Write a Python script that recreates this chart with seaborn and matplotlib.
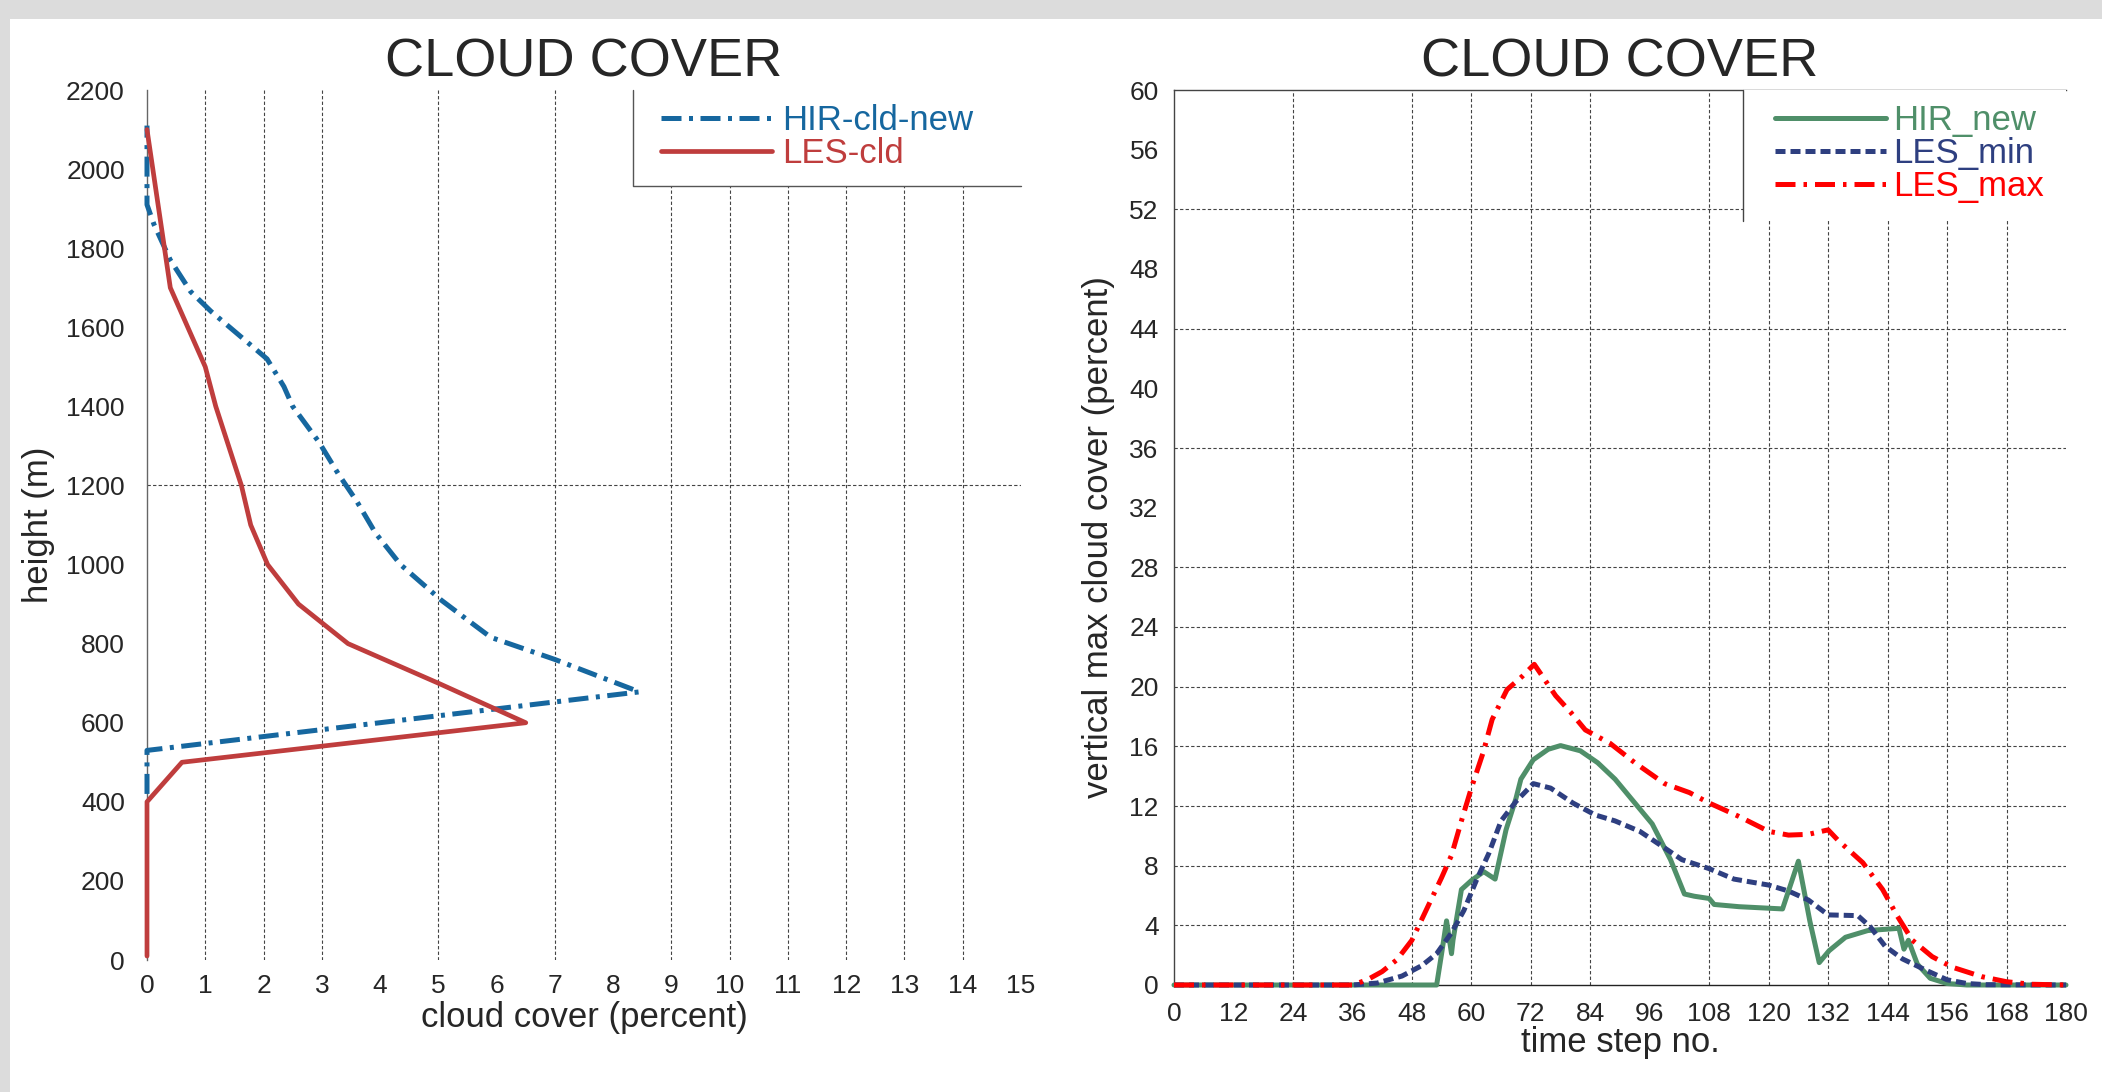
import numpy as np
import pandas as pd
import matplotlib
matplotlib.use("Agg")
import matplotlib.pyplot as plt
from matplotlib.patches import Rectangle
import seaborn as sns

# --- left panel: vertical profiles of cloud cover ---
les_height = [10, 100, 200, 300, 400, 500, 600, 700, 800, 900, 1000, 1100,
              1200, 1300, 1400, 1500, 1600, 1700, 1800, 1900, 2000, 2100]
les_cld = [0, 0, 0, 0, 0, 0.6, 6.5, 5.0, 3.45, 2.6, 2.07, 1.78,
           1.62, 1.4, 1.18, 1.0, 0.7, 0.4, 0.3, 0.2, 0.1, 0.0]

hir_height = [420, 530, 678, 760, 816, 860, 910, 1000, 1080, 1160, 1230,
              1310, 1400, 1450, 1520, 1590, 1640, 1690, 1770, 1860, 1910, 2110]
hir_cld = [0, 0, 8.45, 7.0, 5.9, 5.5, 5.05, 4.35, 3.92, 3.6, 3.28,
           2.95, 2.5, 2.35, 2.06, 1.5, 1.1, 0.75, 0.4, 0.12, 0, 0]

# --- right panel: time series of vertical max cloud cover ---
hir_new_t = [0, 53, 54, 55, 56, 56.3, 58, 60, 62.5, 64.8, 67, 69, 70, 72.5,
             75.5, 78, 82, 85.5, 89, 92.5, 96.5, 100.2, 103, 105, 108, 109,
             114, 122.8, 126, 128.3, 130.2, 132.2, 135.5, 140, 146.3, 147.3,
             148.2, 150, 152.6, 156, 160, 180]
hir_new = [0, 0, 2.1, 4.3, 2.1, 3.0, 6.4, 7.0, 7.6, 7.1, 10.4, 12.5, 13.8, 15.1,
           15.8, 16.05, 15.7, 14.9, 13.8, 12.4, 10.8, 8.4, 6.1, 5.95, 5.8, 5.4,
           5.25, 5.1, 8.3, 4.3, 1.5, 2.3, 3.2, 3.65, 3.8, 2.4,
           3.0, 1.4, 0.45, 0.1, 0, 0]

les_min_t = [0, 36, 41, 46, 50, 53, 56, 58.5, 61, 63.5, 66, 69, 72.5, 76,
             80.5, 85, 89, 94, 98.5, 102.5, 108, 113, 120, 124, 128, 132, 138,
             140.5, 143.5, 147, 152, 156, 160, 164, 180]
les_min = [0, 0, 0.13, 0.6, 1.3, 2.1, 3.5, 5.0, 7.0, 8.8, 11.0, 12.3, 13.5, 13.2,
           12.2, 11.4, 11.0, 10.3, 9.3, 8.4, 7.8, 7.1, 6.7, 6.3, 5.7, 4.7, 4.65,
           3.9, 2.6, 1.75, 0.95, 0.35, 0.1, 0.02, 0]

les_max_t = [0, 36, 39, 42, 45, 48, 51, 54, 56, 58, 60, 62.4, 64.2, 67.2, 70.3,
             72.7, 77, 80, 83, 88, 93, 99, 104, 108, 114, 120, 124, 128, 132,
             134, 139, 143, 146, 149, 153, 157, 163, 168, 173, 180]
les_max = [0, 0, 0.35, 0.9, 1.7, 3.0, 5.1, 7.2, 8.7, 11.0, 13.2, 15.6, 17.8, 19.8, 20.7,
           21.5, 19.4, 18.3, 17.1, 16.2, 14.9, 13.5, 12.9, 12.2, 11.3, 10.3, 10.05, 10.1, 10.4,
           9.7, 8.2, 6.4, 4.6, 3.0, 1.9, 1.2, 0.56, 0.22, 0.05, 0]

# grid lines that show in the original picture
left_xgrid = [1, 2, 3, 5, 7, 9, 10, 11, 12, 13, 14]
left_ygrid = [1200]
right_xgrid = [24, 48, 60, 72, 84, 108, 120, 132, 144, 156, 168]
right_ygrid = [4, 8, 12, 16, 20, 24, 28, 36, 44, 52]

sns.set_style("white")
plt.rcParams['font.family'] = ['Liberation Sans', 'DejaVu Sans']

fig = plt.figure(figsize=(21.02, 10.92), dpi=100, facecolor='#dcdcdc')
fig.patches.append(Rectangle((10 / 2102, 0), 1, 1 - 19 / 1092, transform=fig.transFigure,
                             facecolor='white', edgecolor='none', zorder=-10))

ax1 = fig.add_axes([147 / 2102, 1 - 960 / 1092, 874 / 2102, 870 / 1092])
ax2 = fig.add_axes([1174 / 2102, 1 - 985 / 1092, 892 / 2102, 895 / 1092])
for ax in (ax1, ax2):
    ax.set_facecolor('none')

grid_kw = dict(color='#444444', lw=0.8, ls=(0, (3, 2)), zorder=1)

# left panel
df_hir = pd.DataFrame({'cld': hir_cld, 'height': hir_height})
df_les = pd.DataFrame({'cld': les_cld, 'height': les_height})
sns.lineplot(data=df_hir, x='cld', y='height', sort=False, estimator=None, ax=ax1,
             color='#16679f', lw=3.6, ls=(0, (4, 1.5, 0.8, 1.5)), label='HIR-cld-new',
             clip_on=False, zorder=4)
sns.lineplot(data=df_les, x='cld', y='height', sort=False, estimator=None, ax=ax1,
             color='#bf3d3d', lw=3.4, label='LES-cld', clip_on=False, zorder=5)
for v in left_xgrid:
    ax1.axvline(v, **grid_kw)
for v in left_ygrid:
    ax1.axhline(v, **grid_kw)
ax1.set_xlim(0, 15)
ax1.set_ylim(0, 2200)
ax1.set_xticks(range(0, 16))
ax1.set_yticks(range(0, 2201, 200))
for s in ['top', 'right', 'bottom']:
    ax1.spines[s].set_visible(False)
ax1.spines['left'].set_color('#666666')
ax1.spines['left'].set_linewidth(1.0)
ax1.tick_params(axis='both', length=0, labelsize=19)
ax1.tick_params(axis='y', pad=16)
ax1.tick_params(axis='x', pad=10)
ax1.set_xlabel('cloud cover (percent)', fontsize=25, labelpad=2)
ax1.set_ylabel('height (m)', fontsize=25, labelpad=8)
ax1.set_title('CLOUD COVER', fontsize=39, pad=10)

# legend box (left and bottom edges only)
bx, by = 0.556, 0.890
ax1.add_patch(Rectangle((bx, by), 1 - bx, 1 - by, transform=ax1.transAxes,
                        facecolor='white', edgecolor='none', zorder=3))
ax1.plot([bx, bx, 1.0], [1.0, by, by], transform=ax1.transAxes, color='#555555',
         lw=1.0, clip_on=False, zorder=6)
leg1 = ax1.legend(loc='upper left', bbox_to_anchor=(bx + 0.016, 1.0), frameon=False,
                  fontsize=25, handlelength=3.2, handletextpad=0.3, labelspacing=0.0,
                  borderpad=0.4, borderaxespad=0)
for txt, ln in zip(leg1.get_texts(), leg1.get_lines()):
    txt.set_color(ln.get_color())

# right panel
sns.lineplot(x=hir_new_t, y=hir_new, sort=False, estimator=None, ax=ax2,
             color='#4f8f69', lw=3.6, label='HIR_new', clip_on=False, zorder=4)
sns.lineplot(x=les_min_t, y=les_min, sort=False, estimator=None, ax=ax2,
             color='#2e3f80', lw=3.6, ls=(0, (2, 1)), label='LES_min', clip_on=False, zorder=5)
sns.lineplot(x=les_max_t, y=les_max, sort=False, estimator=None, ax=ax2,
             color='#ff0000', lw=3.6, ls=(0, (4, 1.6, 0.7, 1.6)), label='LES_max',
             clip_on=False, zorder=6)
for v in right_xgrid:
    ax2.axvline(v, **grid_kw)
for v in right_ygrid:
    ax2.axhline(v, **grid_kw)
ax2.set_xlim(0, 180)
ax2.set_ylim(0, 60)
ax2.set_xticks(range(0, 181, 12))
ax2.set_yticks(range(0, 61, 4))
ax2.spines['right'].set_visible(False)
ax2.spines['top'].set_color('#444444')
ax2.spines['left'].set_color('#444444')
ax2.spines['bottom'].set_color('#222222')
for s in ['top', 'left', 'bottom']:
    ax2.spines[s].set_linewidth(1.0)
ax2.tick_params(axis='both', length=5, color='#444444', labelsize=19)
ax2.tick_params(axis='x', pad=7)
ax2.tick_params(axis='y', pad=6)
ax2.set_xlabel('time step no.', fontsize=25, labelpad=0)
ax2.set_ylabel('vertical max cloud cover (percent)', fontsize=25, labelpad=10)
ax2.set_title('CLOUD COVER', fontsize=39, pad=10)

bx2, by2 = 0.638, 0.854
ax2.add_patch(Rectangle((bx2, by2), 1 - bx2, 1 - by2, transform=ax2.transAxes,
                        facecolor='white', edgecolor='none', zorder=3))
ax2.plot([bx2, bx2], [1.0, by2], transform=ax2.transAxes, color='#444444',
         lw=1.0, clip_on=False, zorder=6)
leg2 = ax2.legend(loc='upper left', bbox_to_anchor=(bx2 + 0.02, 1.0), frameon=False,
                  fontsize=25, handlelength=3.2, handletextpad=0.2, labelspacing=0.0,
                  borderpad=0.4, borderaxespad=0)
for txt, ln in zip(leg2.get_texts(), leg2.get_lines()):
    txt.set_color(ln.get_color())

fig.savefig('out.png', dpi=100, facecolor=fig.get_facecolor())
